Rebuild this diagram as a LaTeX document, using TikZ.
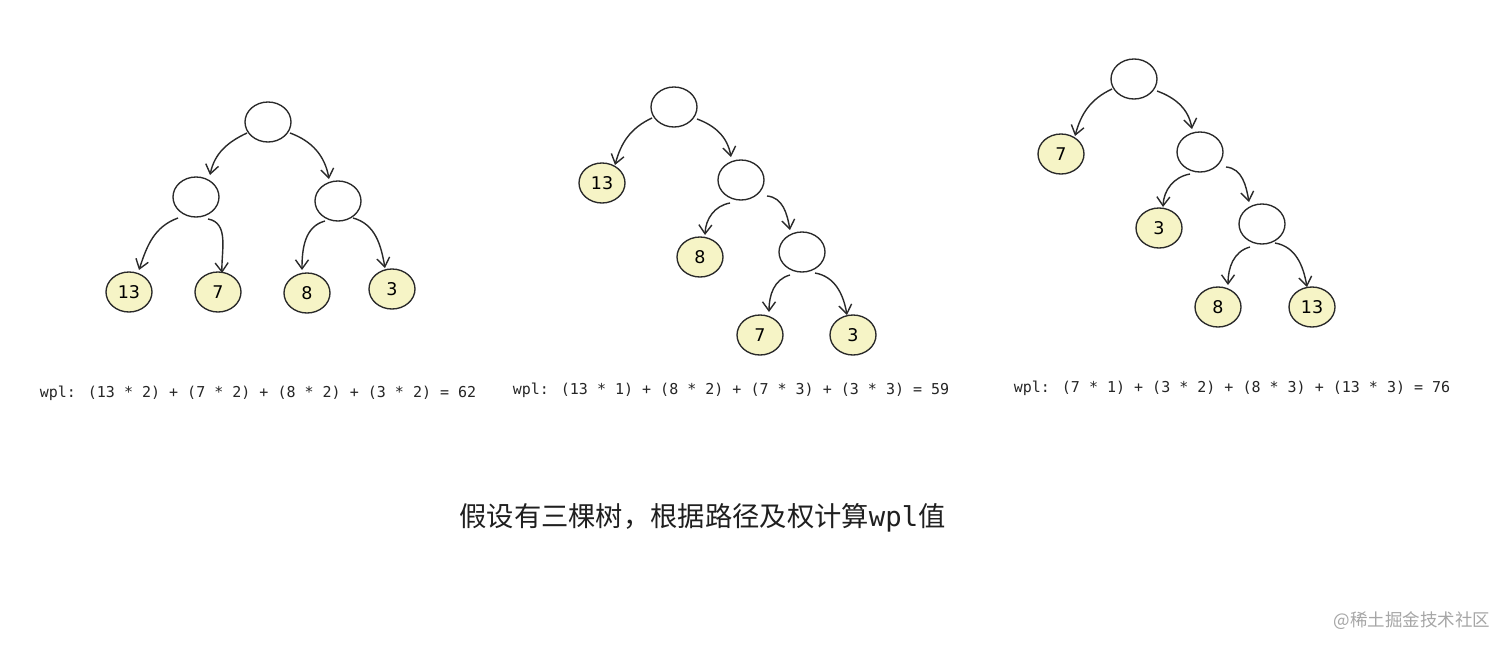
\documentclass[tikz,border=0pt]{standalone}
\usepackage{fontspec}
\setmainfont{DejaVu Sans}
\newfontfamily\wmono{DejaVu Sans Mono}
\newfontfamily\cjk{Noto Sans CJK SC}
\usetikzlibrary{shapes.geometric,arrows.meta}
\definecolor{leafyellow}{HTML}{F6F4C6}
\definecolor{edgegray}{HTML}{2A2A2A}
\tikzset{
  inner/.style={ellipse,draw=edgegray,line width=1.35pt,fill=white,minimum width=46pt,minimum height=40pt,inner sep=0pt},
  leaf/.style={inner,fill=leafyellow,font=\fontsize{17.5}{18}\selectfont},
  arr/.style={draw=edgegray,line width=1.4pt,-{Straight Barb[length=9pt,width=13pt,line width=1.4pt]}},
  wpltext/.style={font=\wmono\fontsize{15}{16}\selectfont,text=black!85,inner sep=0pt},
}
\begin{document}
\begin{tikzpicture}[x=1pt,y=1pt]
\useasboundingbox[fill=white] (0,0) rectangle (1512,-651);
% ---------- tree 1 ----------
\node[inner] (a0) at (268,-122) {};
\node[inner] (a1) at (196,-197) {};
\node[inner] (a2) at (338,-201) {};
\node[leaf] (a3) at (129,-292) {13};
\node[leaf] (a4) at (218,-292) {7};
\node[leaf] (a5) at (307,-293) {8};
\node[leaf] (a6) at (392,-289) {3};
\draw[arr] ([shift={(-21pt,-11pt)}]a0.center) to[out=205,in=78] ([shift={(14pt,22pt)}]a1.center);
\draw[arr] ([shift={(22pt,-11pt)}]a0.center) to[out=-20,in=100] ([shift={(-9pt,22pt)}]a2.center);
\draw[arr] ([shift={(-18pt,-21pt)}]a1.center) to[out=200,in=72] ([shift={(10pt,22pt)}]a3.center);
\draw[arr] ([shift={(12pt,-22pt)}]a1.center) to[out=-10,in=92] ([shift={(4pt,19pt)}]a4.center);
\draw[arr] ([shift={(-13pt,-20pt)}]a2.center) to[out=195,in=90] ([shift={(-5pt,23pt)}]a5.center);
\draw[arr] ([shift={(15pt,-17pt)}]a2.center) to[out=-15,in=100] ([shift={(-7pt,21pt)}]a6.center);
\node[wpltext] (w1) at (258,-393) {wpl: (13 * 2) + (7 * 2) + (8 * 2) + (3 * 2) = 62};
% ---------- tree 2 ----------
\node[inner] (b0) at (674,-107) {};
\node[leaf] (b1) at (602,-183) {13};
\node[inner] (b2) at (741,-180) {};
\node[leaf] (b3) at (700,-257) {8};
\node[inner] (b4) at (802,-252) {};
\node[leaf] (b5) at (760,-335) {7};
\node[leaf] (b6) at (853,-335) {3};
\draw[arr] ([shift={(-22pt,-11pt)}]b0.center) to[out=205,in=75] ([shift={(13pt,18pt)}]b1.center);
\draw[arr] ([shift={(23pt,-12pt)}]b0.center) to[out=-20,in=100] ([shift={(-10pt,23pt)}]b2.center);
\draw[arr] ([shift={(-11pt,-23pt)}]b2.center) to[out=190,in=88] ([shift={(5pt,22pt)}]b3.center);
\draw[arr] ([shift={(26pt,-16pt)}]b2.center) to[out=-5,in=100] ([shift={(-12pt,22pt)}]b4.center);
\draw[arr] ([shift={(-12pt,-23pt)}]b4.center) to[out=195,in=90] ([shift={(9pt,23pt)}]b5.center);
\draw[arr] ([shift={(13pt,-21pt)}]b4.center) to[out=-10,in=100] ([shift={(-6pt,20pt)}]b6.center);
\node[wpltext] (w2) at (731,-390) {wpl: (13 * 1) + (8 * 2) + (7 * 3) + (3 * 3) = 59};
% ---------- tree 3 ----------
\node[inner] (c0) at (1134,-79) {};
\node[leaf] (c1) at (1061,-154) {7};
\node[inner] (c2) at (1200,-152) {};
\node[leaf] (c3) at (1159,-228) {3};
\node[inner] (c4) at (1262,-224) {};
\node[leaf] (c5) at (1218,-307) {8};
\node[leaf] (c6) at (1312,-307) {13};
\draw[arr] ([shift={(-22pt,-10pt)}]c0.center) to[out=205,in=75] ([shift={(14pt,18pt)}]c1.center);
\draw[arr] ([shift={(23pt,-12pt)}]c0.center) to[out=-20,in=100] ([shift={(-8pt,23pt)}]c2.center);
\draw[arr] ([shift={(-10pt,-22pt)}]c2.center) to[out=190,in=88] ([shift={(4pt,21pt)}]c3.center);
\draw[arr] ([shift={(26pt,-15pt)}]c2.center) to[out=-5,in=100] ([shift={(-13pt,22pt)}]c4.center);
\draw[arr] ([shift={(-12pt,-23pt)}]c4.center) to[out=195,in=90] ([shift={(10pt,22pt)}]c5.center);
\draw[arr] ([shift={(13pt,-19pt)}]c4.center) to[out=-10,in=100] ([shift={(-5pt,20pt)}]c6.center);
\node[wpltext] (w3) at (1232,-388) {wpl: (7 * 1) + (3 * 2) + (8 * 3) + (13 * 3) = 76};
% ---------- caption ----------
\node[inner sep=0pt,text=black!88] (cap) at (702.5,-518) {\cjk\fontsize{27.3}{30}\selectfont 假设有三棵树，根据路径及权计算{\wmono wpl}值};
\node[inner sep=0pt,text=black!35] (wm) at (1412,-621) {\cjk\fontsize{17.5}{20}\selectfont @稀土掘金技术社区};
\end{tikzpicture}
\end{document}
